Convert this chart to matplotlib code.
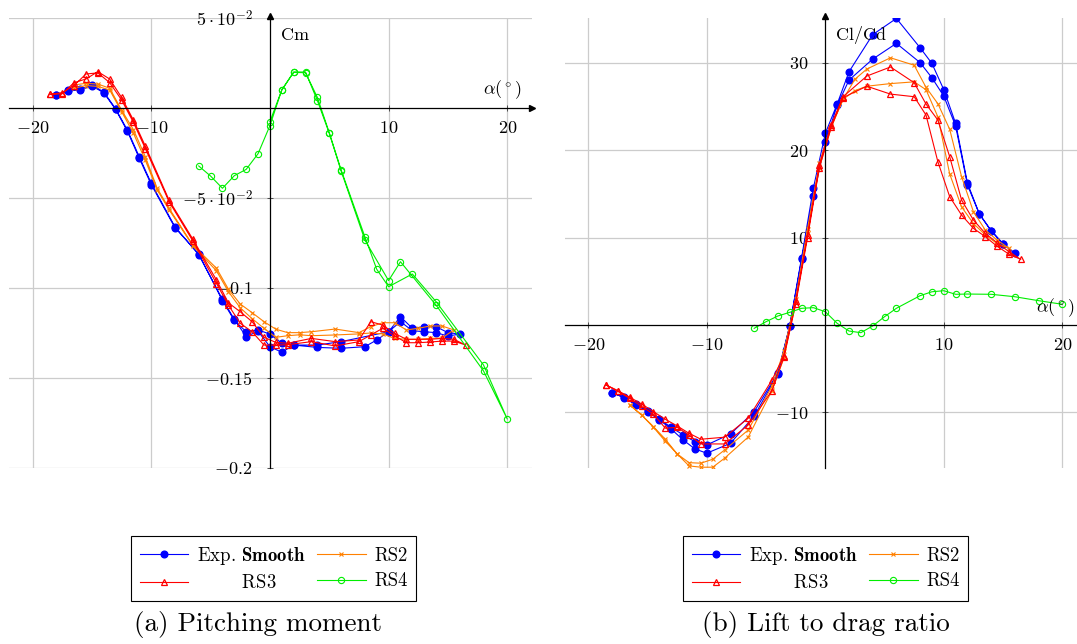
import numpy as np
import matplotlib.pyplot as plt

plt.rcParams['font.family'] = ['cmr10', 'DejaVu Serif']
plt.rcParams['mathtext.fontset'] = 'cm'
plt.rcParams['axes.unicode_minus'] = False

# ---------- (a) pitching moment: each series is a loop (alpha up, then back down)
cm_exp_alpha = [-18, -17, -16, -15, -14, -13, -12, -11, -10, -8, -6, -4, -3, -2, -1, 0, 1, 2, 4, 6, 8, 9, 10, 11, 12, 13, 14, 15, 16,
                15, 14, 13, 12, 11, 10, 6, 4, 2, 1, 0, -1, -2, -3, -4, -6, -8, -10, -11, -12, -13, -14, -15, -16, -17, -18]
cm_exp = [0.0071, 0.0098, 0.0104, 0.0128, 0.0089, -0.0004, -0.0124, -0.0272, -0.0418, -0.0660, -0.0815, -0.1063, -0.1174,
          -0.1270, -0.1240, -0.1326, -0.1357, -0.1317, -0.1330, -0.1335, -0.1326, -0.1289, -0.1243, -0.1159, -0.1224, -0.1215,
          -0.1215, -0.1248, -0.1256,
          -0.1267, -0.1248, -0.1243, -0.1237, -0.1187, -0.1243, -0.1298, -0.1317, -0.1317, -0.1307, -0.1256, -0.1233, -0.1243,
          -0.1180, -0.1070, -0.0810, -0.0665, -0.0425, -0.0280, -0.0130, -0.0008, 0.0085, 0.0122, 0.0100, 0.0095, 0.0071]

cm_rs2_alpha = [-16.5, -15.5, -14.5, -13.5, -12.5, -11.5, -10.5, -9.5, -8.5, -6.5, -4.5, -3.5, -2.5, -1.5, -0.5, 0.5, 1.5, 2.5,
                3.5, 5.5, 7.5, 8.5, 9.5, 10.5, 11.5, 12.5, 13.5, 14.5, 15.5,
                14.5, 13.5, 12.5, 11.5, 10.5, 9.5, 8.5, 7.5, 5.5, 3.5, 2.5, 1.5, 0.5, -0.5, -1.5, -2.5, -3.5, -4.5, -6.5,
                -8.5, -9.5, -10.5, -11.5, -12.5, -13.5, -14.5, -15.5, -16.5]
cm_rs2 = [0.0128, 0.0137, 0.0133, 0.0110, -0.0011, -0.0120, -0.0270, -0.0446, -0.0557, -0.0761, -0.0890, -0.1006, -0.1089,
          -0.1137, -0.1187, -0.1229, -0.1248, -0.1248, -0.1243, -0.1228, -0.1248, -0.1215, -0.1193, -0.1193, -0.1233, -0.1224,
          -0.1211, -0.1211, -0.1233,
          -0.1278, -0.1280, -0.1285, -0.1285, -0.1280, -0.1255, -0.1250, -0.1255, -0.1261, -0.1265, -0.1260, -0.1265, -0.1274,
          -0.1224, -0.1170, -0.1110, -0.1020, -0.0905, -0.0765, -0.0565, -0.0455, -0.0290, -0.0140, -0.0020, 0.0100,
          0.0120, 0.0125, 0.0110]

cm_rs3_alpha = [-18.5, -17.5, -16.5, -15.5, -14.5, -13.5, -12.5, -11.5, -10.5, -8.5, -6.5, -4.5, -3.5, -2.5, -1.5, -0.5, 0.5,
                1.5, 3.5, 5.5, 7.5, 8.5, 9.5, 10.5, 11.5, 12.5, 13.5, 14.5, 15.5, 16.5,
                15.5, 14.5, 13.5, 12.5, 11.5, 10.5, 9.5, 8.5, 7.5, 5.5, 3.5, 1.5, 0.5, -0.5, -1.5, -2.5, -3.5, -4.5, -6.5,
                -8.5, -10.5, -11.5, -12.5, -13.5, -14.5, -15.5, -16.5, -17.5, -18.5]
cm_rs3 = [0.0076, 0.0079, 0.0141, 0.0161, 0.0202, 0.0161, 0.0059, -0.0067, -0.0211, -0.0511, -0.0728, -0.0956, -0.1082,
          -0.1132, -0.1187, -0.1274, -0.1302, -0.1307, -0.1280, -0.1298, -0.1289, -0.1187, -0.1206, -0.1252, -0.1285,
          -0.1285, -0.1285, -0.1280, -0.1285, -0.1317,
          -0.1295, -0.1295, -0.1300, -0.1304, -0.1304, -0.1265, -0.1224, -0.1261, -0.1298, -0.1322, -0.1298, -0.1315,
          -0.1317, -0.1317, -0.1243, -0.1196, -0.1095, -0.0975, -0.0738, -0.0520, -0.0225, -0.0080, 0.0045, 0.0141,
          0.0195, 0.0189, 0.0125, 0.0085, 0.0076]

cm_rs4_alpha = [-6, -5, -4, -3, -2, -1, 0, 1, 2, 3, 4, 5, 6, 8, 9, 10, 12, 14, 18, 20,
                18, 14, 11, 10, 8, 6, 5, 4, 3, 2, 1, 0]
cm_rs4 = [-0.0322, -0.0378, -0.0446, -0.0376, -0.0341, -0.0254, -0.0098, 0.0100, 0.0198, 0.0196, 0.0059, -0.0137, -0.0344,
          -0.0715, -0.0896, -0.0993, -0.0922, -0.1076, -0.1428, -0.1728,
          -0.1461, -0.1095, -0.0854, -0.0959, -0.0733, -0.0350, -0.0140, 0.0041, 0.0200, 0.0200, 0.0100, -0.0076]

# ---------- (b) lift to drag ratio
ld_exp_alpha = [-18, -17, -16, -15, -14, -13, -12, -11, -10, -8, -6, -4, -3, -2, -1, 0, 1, 2, 4, 6, 8, 9, 10, 11, 12, 13,
                14, 15, 16,
                15, 14, 13, 12, 11, 10, 9, 8, 6, 4, 2, 1, 0, -1, -2, -3, -4, -6, -8,
                -10, -11, -12, -13, -14, -15, -16, -17, -18]
ld_exp = [-7.74, -8.26, -9.03, -9.83, -10.78, -11.69, -12.57, -13.34, -13.71, -12.46, -9.91, -5.45, -0.10, 7.50, 14.70,
          20.90, 25.10, 28.00, 30.40, 32.20, 30.00, 28.26, 26.17, 22.74, 16.00, 12.69, 10.74, 9.26, 8.19,
          9.30, 10.80, 12.70, 16.20, 23.05, 26.90, 29.90, 31.70, 35.05, 33.20, 28.95, 25.26, 21.90, 15.70, 7.70, -0.10,
          -5.60, -10.40, -13.52, -14.66, -14.17, -13.14, -11.90, -10.85, -9.90, -9.10, -8.30, -7.74]

ld_rs2_alpha = [-16.5, -15.5, -14.5, -13.5, -12.5, -11.5, -10.5, -9.5, -8.5, -6.5, -4.5, -3.5, -2.5, -1.5, -0.5, 0.5, 1.5,
                2.5, 3.5, 5.5, 7.5, 8.5, 9.5, 10.5, 11.5, 12.5, 13.5, 14.5, 15.5,
                14.5, 13.5, 12.5, 11.5, 10.5, 9.5, 8.5, 7.5, 5.5, 3.5, 2.5, 1.5, 0.5, -0.5, -1.5, -2.5, -3.5, -4.5, -6.5,
                -8.5, -9.5, -10.5, -11.5, -12.5, -13.5, -14.5, -15.5, -16.5]
ld_rs2 = [-9.14, -10.29, -11.62, -13.06, -14.74, -15.74, -15.80, -15.35, -14.29, -12.00, -7.00, -3.00, 3.00, 11.00, 18.50,
          22.80, 25.80, 28.10, 29.26, 30.55, 29.70, 27.17, 25.30, 22.37, 16.95, 12.95, 10.86, 9.71, 8.77,
          9.30, 10.30, 11.60, 13.50, 17.26, 23.80, 26.90, 27.80, 27.60, 27.30, 26.80, 25.80, 22.60, 18.00, 10.50, 2.50,
          -3.80, -7.50, -12.80, -15.23, -16.26, -16.26, -16.11, -14.74, -13.30, -11.70, -10.30, -9.14]

ld_rs3_alpha = [-18.5, -17.5, -16.5, -15.5, -14.5, -13.5, -12.5, -11.5, -10.5, -8.5, -6.5, -4.5, -3.5, -2.5, -1.5, -0.5, 0.5,
                1.5, 3.5, 5.5, 7.5, 8.5, 9.5, 10.5, 11.5, 12.5, 13.5, 14.5, 15.5, 16.5,
                15.5, 14.5, 13.5, 12.5, 11.5, 10.5, 9.5, 8.5, 7.5, 5.5, 3.5, 1.5, 0.5, -0.5, -1.5, -2.5, -3.5, -4.5, -6.5,
                -8.5, -10.5, -11.5, -12.5, -13.5, -14.5, -15.5, -16.5, -17.5, -18.5]
ld_rs3 = [-6.86, -7.50, -8.26, -9.03, -9.91, -10.78, -11.54, -12.38, -13.06, -12.83, -10.66, -6.29, -3.54, 2.74, 10.30,
          18.30, 22.90, 26.10, 28.46, 29.50, 27.70, 25.26, 23.43, 19.23, 14.29, 12.00, 10.48, 9.40, 8.38, 7.50,
          8.10, 9.00, 10.10, 11.05, 12.57, 14.66, 18.66, 24.00, 26.10, 26.40, 27.30, 26.00, 22.60, 18.00, 10.00, 2.40,
          -3.70, -7.50, -11.43, -13.60, -13.60, -12.60, -11.70, -11.80, -10.20, -9.30, -8.40, -7.60, -6.86]

ld_rs4_alpha = [-6, -5, -4, -3, -2, -1, 0, 1, 2, 3, 4, 5, 6, 8, 9, 10, 11, 12, 14, 16, 18, 20]
ld_rs4 = [-0.38, 0.38, 1.03, 1.45, 1.91, 1.98, 1.52, 0.19, -0.69, -0.88, -0.11, 0.95, 1.91, 3.35, 3.80, 3.92, 3.51, 3.54,
          3.51, 3.23, 2.78, 2.37]

c_exp, c_rs2, c_rs3, c_rs4 = '#0000ff', '#ff8000', '#ff0000', '#00ee00'
ticksize = 13

fig = plt.figure(figsize=(10.77, 6.44), dpi=100)
ax1 = fig.add_axes([9.4 / 1077, 1 - 468 / 644, 522.2 / 1077, 450 / 644])
ax2 = fig.add_axes([564.6 / 1077, 1 - 468 / 644, 521.4 / 1077, 450 / 644])


def draw(ax, data):
    handles = {}
    for key, (a, v) in data.items():
        if key == 'exp':
            h, = ax.plot(a, v, color=c_exp, lw=0.8, marker='o', ms=4.8, mfc=c_exp, mec=c_exp)
        elif key == 'rs2':
            h, = ax.plot(a, v, color=c_rs2, lw=0.8, marker='x', ms=3.5, mew=0.8)
        elif key == 'rs3':
            h, = ax.plot(a, v, color=c_rs3, lw=0.8, marker='^', ms=4.5, mfc='none', mew=0.9)
        else:
            h, = ax.plot(a, v, color=c_rs4, lw=0.8, marker='o', ms=4.5, mfc='none', mew=0.8)
        handles[key] = h
    return handles


def middle(ax, xlim, ylim, xticks, yticks, ylabels, grid_y):
    ax.set_xlim(xlim)
    ax.set_ylim(ylim)
    ax.set_axisbelow(True)
    for s in ['top', 'right']:
        ax.spines[s].set_visible(False)
    ax.spines['left'].set_position(('data', 0))
    ax.spines['bottom'].set_position(('data', 0))
    for s in ['left', 'bottom']:
        ax.spines[s].set_linewidth(0.9)
    ax.set_xticks(xticks)
    ax.set_xticklabels(['$%g$' % t for t in xticks], fontsize=ticksize)
    ax.set_yticks(yticks)
    ax.set_yticklabels(ylabels, fontsize=ticksize)
    ax.tick_params(direction='inout', length=5, width=0.7, color='0.3')
    ax.tick_params(axis='x', pad=6)
    ax.tick_params(axis='y', pad=10)
    for t in [-20, -10, 10, 20]:
        ax.axvline(t, color='0.8', lw=0.9, zorder=0)
    for t in grid_y:
        ax.axhline(t, color='0.8', lw=0.9, zorder=0)
    ax.plot(1, 0, '>k', ms=4, transform=ax.get_yaxis_transform(), clip_on=False)
    ax.plot(0, 1.005, '^k', ms=4, transform=ax.get_xaxis_transform(), clip_on=False)


h1 = draw(ax1, {'exp': (cm_exp_alpha, cm_exp), 'rs2': (cm_rs2_alpha, cm_rs2),
                'rs3': (cm_rs3_alpha, cm_rs3), 'rs4': (cm_rs4_alpha, cm_rs4)})
middle(ax1, (-21.95, 22.05), (-0.2, 0.05), [-20, -10, 10, 20],
       [-0.2, -0.15, -0.1, -0.05, 0.05],
       [r'$-0.2$', r'$-0.15$', r'$-0.1$', r'$-5\cdot10^{-2}$', r'$5\cdot10^{-2}$'],
       [-0.2, -0.15, -0.1, -0.05, 0.05])
ax1.text(0.97, 0.962, 'Cm', transform=ax1.get_xaxis_transform(), ha='left', va='center', fontsize=ticksize)
ax1.text(21.2, 0.01, r'$\alpha(^\circ)$', ha='right', va='center', fontsize=ticksize)

h2 = draw(ax2, {'exp': (ld_exp_alpha, ld_exp), 'rs2': (ld_rs2_alpha, ld_rs2),
                'rs3': (ld_rs3_alpha, ld_rs3), 'rs4': (ld_rs4_alpha, ld_rs4)})
middle(ax2, (-22, 22), (-16.35, 35.1), [-20, -10, 10, 20],
       [-10, 10, 20, 30], [r'$-10$', r'$10$', r'$20$', r'$30$'], [-10, 10, 20, 30])
ax2.text(0.9, 0.962, 'Cl/Cd', transform=ax2.get_xaxis_transform(), ha='left', va='center', fontsize=ticksize)
ax2.text(21.07, 1.94, r'$\alpha(^\circ)$', ha='right', va='center', fontsize=ticksize)

labels = [r'Exp. $\mathbf{Smooth}$', r'$\qquad\;\;\,$RS3', 'RS2', 'RS4']
for ax, h, cx, cap in [(ax1, h1, 273.5 / 1077, '(a) Pitching moment'),
                       (ax2, h2, 825.5 / 1077, '(b) Lift to drag ratio')]:
    leg = ax.legend([h['exp'], h['rs3'], h['rs2'], h['rs4']], labels, ncol=2, loc='center',
                    bbox_to_anchor=(cx, 1 - 568.5 / 644), bbox_transform=fig.transFigure,
                    fontsize=13.5, frameon=True, fancybox=False, framealpha=1, edgecolor='black',
                    handlelength=2.6, handletextpad=0.45, columnspacing=0.6, borderpad=0.45, labelspacing=0.4)
    leg.get_frame().set_linewidth(0.8)
    fig.text(cx - (15 / 1077 if ax is ax1 else 0), 1 - 624 / 644, cap, ha='center', va='center', fontsize=19.5)

fig.savefig('out.png', dpi=100)
